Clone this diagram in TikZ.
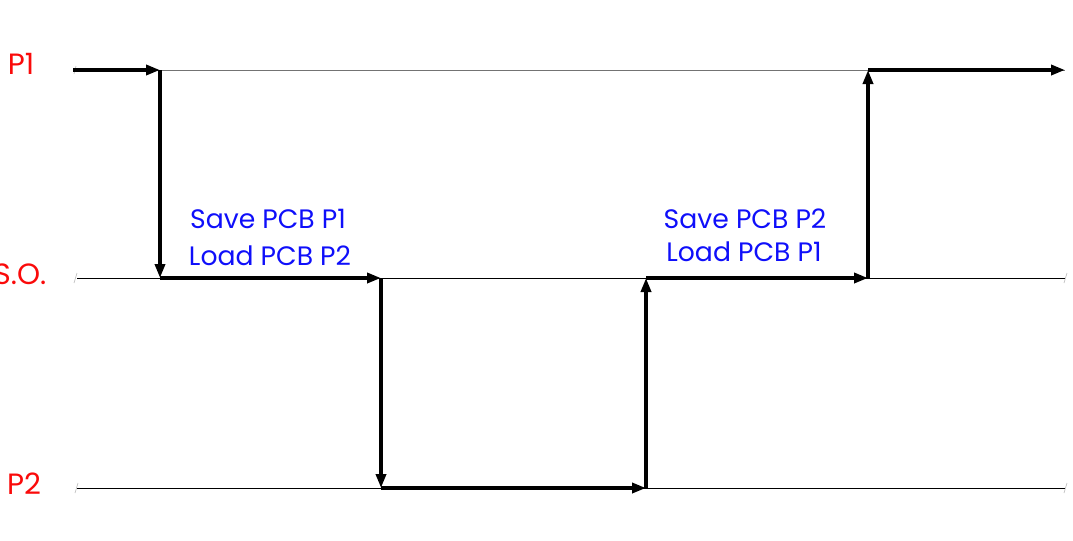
\documentclass[tikz,border=0pt]{standalone}
\usepackage{fontspec}
\setmainfont{Poppins}
\usetikzlibrary{arrows.meta}
\definecolor{lblred}{RGB}{250,10,10}
\definecolor{lblblue}{RGB}{15,15,250}
\tikzset{
  flow/.style={line width=2.6pt, -{Triangle[length=10.5pt,width=7.5pt]}},
  axisline/.style={line width=0.6pt, black},
  axisgray/.style={line width=0.6pt, black!55},
  tick/.style={line width=0.5pt, black!25},
  lane/.style={text=lblred, font=\fontsize{22}{24}\selectfont, anchor=center, inner sep=0pt},
  note/.style={text=lblblue, font=\fontsize{20}{22}\selectfont, anchor=center, inner sep=0pt}
}
\begin{document}
\begin{tikzpicture}[x=0.75pt,y=-0.75pt]
\useasboundingbox (0,0) rectangle (1073,540);
% coordinates
\coordinate (a0) at (73,70);
\coordinate (a1) at (160,70);
\coordinate (b1) at (160,278);
\coordinate (b2) at (381,278);
\coordinate (c2) at (381,488);
\coordinate (c3) at (646,488);
\coordinate (b3) at (646,278);
\coordinate (b4) at (868,278);
\coordinate (a4) at (868,70);
\coordinate (a5) at (1065,70);
\coordinate (l1s) at (75,70);
\coordinate (l1e) at (1065,70);
\coordinate (l2s) at (77,278);
\coordinate (l2e) at (1065,278);
\coordinate (l3s) at (77,488);
\coordinate (l3e) at (1065,488);
% thin lines
\draw[axisgray] (l1s) -- (l1e);
\draw[axisline] (l2s) -- (l2e);
\draw[axisline] (l3s) -- (l3e);
% small ticks at line ends
\draw[tick] (74,74) -- (76,66);
\draw[tick] (74,283) -- (77,273);
\draw[tick] (75,493) -- (78,483);
\draw[tick] (1064,283) -- (1067,273);
\draw[tick] (1064,493) -- (1067,483);
% labels
\node[lane] (p1) at (21,64) {P1};
\node[lane] (so) at (20,274) {S.O.};
\node[lane] (p2) at (24,484) {P2};
\node[note] (n1) at (268,219) {Save PCB P1};
\node[note] (n2) at (270,256) {Load PCB P2};
\node[note] (n3) at (745,219) {Save PCB P2};
\node[note] (n4) at (744,252) {Load PCB P1};
% flow arrows
\draw[flow] (a0) -- (a1);
\draw[flow] (a1) -- (b1);
\draw[flow] (b1) -- (b2);
\draw[flow] (b2) -- (c2);
\draw[flow] (c2) -- (c3);
\draw[flow] (c3) -- (b3);
\draw[flow] (b3) -- (b4);
\draw[flow] (b4) -- (a4);
\draw[flow] (a4) -- (a5);
\end{tikzpicture}
\end{document}
